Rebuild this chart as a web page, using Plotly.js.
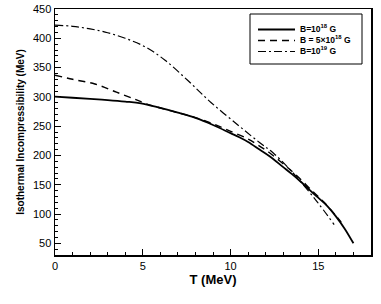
<!DOCTYPE html>
<html><head><meta charset="utf-8">
<script src="https://cdn.plot.ly/plotly-3.0.1.min.js"></script>
<style>html,body{margin:0;padding:0;background:#fff}#c{width:381px;height:304px}</style>
</head><body><div id="c"></div>
<script>
const T1 = [0, 1, 2, 3, 4, 4.9, 6, 7, 8, 9, 10, 10.5, 11, 11.65, 12.2, 13, 13.5, 14, 14.87, 15.5, 16, 16.5, 17];
const K1 = [300.5, 298.5, 296.5, 294.5, 292, 289, 281, 273, 264, 252, 238, 231, 223, 210, 199, 180, 168, 155, 131, 114, 96, 75, 50];
const T2 = [0, 1, 2.27, 3.5, 4.55, 5.2, 6, 7, 8, 9, 9.94, 11, 11.65, 12.2, 13.3, 14, 14.7, 15.3, 16, 16.3];
const K2 = [337, 330, 322, 308, 296, 288, 281, 273, 264.5, 254, 242, 228, 216, 205, 178, 159, 138, 121, 97, 86];
const T3 = [0, 1, 2, 3, 4, 5.1, 6.25, 7.6, 8.9, 10.5, 11.65, 12.4, 13.5, 14.9, 15.9];
const K3 = [422.5, 420.5, 416, 409.5, 400, 386, 363, 327, 290, 250, 222, 205, 172, 122, 82];
const names = ['B=10<sup>18</sup> G', 'B = 5×10<sup>18</sup> G', 'B=10<sup>19</sup> G'];
const dashes = ['solid', '7px,5px', '8px,3px,2px,3px'];
const widths = [1.8, 1.4, 1.2];
const xs = [T1, T2, T3], ys = [K1, K2, K3];
const FONT = 'Liberation Sans, Arial, Helvetica, sans-serif';
const data = xs.map((x, i) => ({
  x: x, y: ys[i], name: names[i], type: 'scatter', mode: 'lines', showlegend: false,
  line: {color: '#000', width: widths[i], dash: dashes[i], shape: 'spline', smoothing: 1}
}));
// plot area geometry (pixels)
const L = 55, R = 10, TOP = 9, B = 49, W = 381, H = 304;
const pw = W - L - R, ph = H - TOP - B;
const px = v => (v - L) / pw, py = v => (H - B - v) / ph;
const shapes = [{type: 'rect', xref: 'paper', yref: 'paper', x0: px(250), x1: px(362), y0: py(64), y1: py(14),
  line: {color: '#000', width: 1}, fillcolor: '#fff', layer: 'above'}];
const annotations = [];
const rows = [29.5, 40.5, 51.5];
names.forEach((n, i) => {
  shapes.push({type: 'line', xref: 'paper', yref: 'paper', x0: px(258), x1: px(295), y0: py(rows[i]), y1: py(rows[i]),
    line: {color: '#000', width: widths[i], dash: dashes[i]}, layer: 'above'});
  annotations.push({xref: 'paper', yref: 'paper', x: px(299), y: py(rows[i] - 1), xanchor: 'left', yanchor: 'middle',
    text: '<b>' + n + '</b>', showarrow: false, borderpad: 0, font: {family: FONT, size: 8.5, color: '#000'}});
});
const ax = {
  showgrid: false, zeroline: false, showline: true, linecolor: '#000', linewidth: 1.5, mirror: true,
  ticks: 'inside', ticklen: 6, tickcolor: '#000', tickwidth: 1,
  tickfont: {family: FONT, size: 11, color: '#000'}
};
const layout = {
  width: W, height: H, margin: {l: L, r: R, t: TOP, b: B},
  paper_bgcolor: '#fff', plot_bgcolor: '#fff', showlegend: false,
  shapes: shapes, annotations: annotations,
  xaxis: Object.assign({}, ax, {range: [0, 18], dtick: 5, tick0: 0,
    minor: {dtick: 1, ticks: 'inside', ticklen: 3, tickcolor: '#000'},
    title: {text: '<b>T (MeV)</b>', standoff: 4, font: {family: FONT, size: 13, color: '#000'}}}),
  yaxis: Object.assign({}, ax, {range: [30, 450], dtick: 50, tick0: 0,
    minor: {dtick: 10, ticks: 'inside', ticklen: 3, tickcolor: '#000'},
    title: {text: '<b>Isothermal Incompressibility (MeV)</b>', standoff: 6, font: {family: FONT, size: 10, color: '#000'}}})
};
Plotly.newPlot('c', data, layout, {displayModeBar: false, staticPlot: true});
</script></body></html>
